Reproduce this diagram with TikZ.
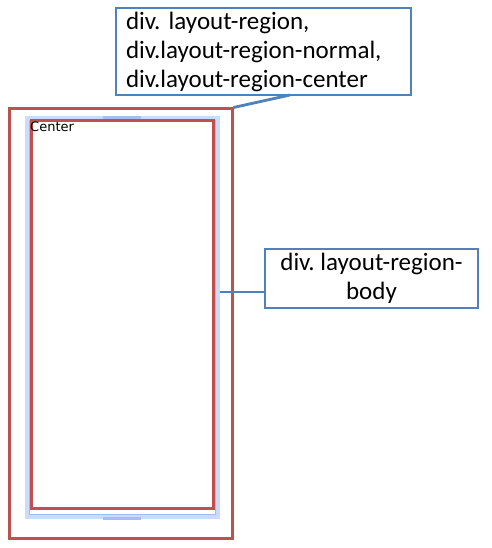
\documentclass[tikz,border=0pt]{standalone}
\usepackage{fontspec}
\setmainfont{Carlito}
\newfontfamily\uifont{DejaVu Sans}
\usepackage{xcolor}
\usetikzlibrary{positioning}
\definecolor{regionred}{HTML}{C0504D}
\definecolor{calloutblue}{HTML}{4F81BD}
\definecolor{panelblue}{HTML}{CADCF9}
\definecolor{paneledge}{HTML}{9FBDEE}
\definecolor{tabblue}{HTML}{A4BFEC}

\begin{document}
\begin{tikzpicture}[x=1pt, y=-1pt,
  region/.style={draw=regionred, line width=3pt, inner sep=0pt},
  panel/.style={draw=panelblue, line width=4pt, inner sep=0pt},
  callout/.style={draw=calloutblue, line width=2.8pt, fill=white, inner sep=0pt, font=\fontsize{25}{29}\selectfont\frenchspacing},
  tab/.style={fill=tabblue, inner sep=0pt, minimum width=38pt, minimum height=3pt},
  lead/.style={draw=calloutblue, line width=2.8pt}]
\useasboundingbox (0,0) rectangle (491,548);
% layout region and its body
\node[panel, minimum width=191pt, minimum height=399pt] (panel) at (122.5,317.5) {};
\draw[paneledge, line width=0.8pt] (29.5,120.5) rectangle (215.5,514.5);
\node[tab] (tabtop) at (122,117.5) {};
\node[tab] (tabbot) at (122,518.5) {};
\node[region, minimum width=223pt, minimum height=429pt] (outer) at (120.5,323.5) {};
\node[region, minimum width=182pt, minimum height=387pt] (body) at (122,314.5) {};
\node[anchor=north west, inner sep=0pt, font=\uifont\fontsize{13}{15}\selectfont] (center) at (30,122) {Center};
% callouts
\node[callout, minimum width=295pt, minimum height=87pt, align=left, text width=275pt] (regbox) at (263.5,51.5) {div. layout-region,\\div.layout-region-normal,\\div.layout-region-center};
\node[callout, minimum width=213pt, minimum height=59pt, align=center] (bodybox) at (371.5,278.5) {div. layout-region-\\body};
\coordinate (regtail) at (290,95);
\draw[lead] (regtail) -- (outer.north east);
\draw[lead] (panel.east |- 0,292) -- (bodybox.west |- 0,292);
\end{tikzpicture}
\end{document}
